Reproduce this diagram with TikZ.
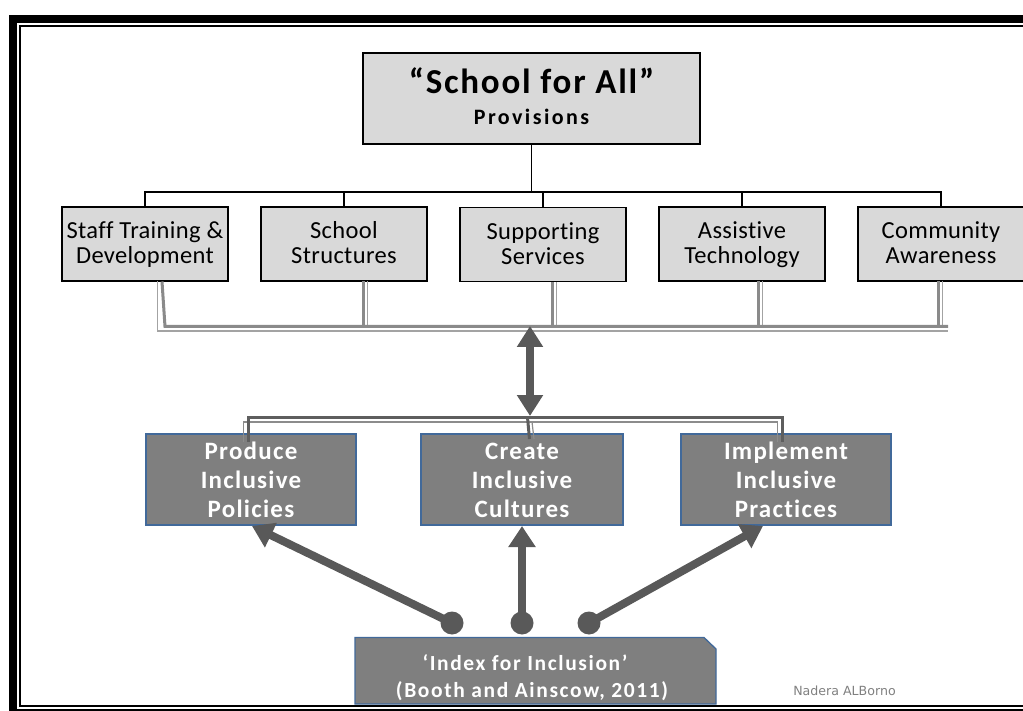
\documentclass[tikz,border=0pt]{standalone}
\usepackage{fontspec}
\setmainfont[Ligatures=NoCommon]{Carlito}
\newfontfamily\boldA[LetterSpace=5,Ligatures=NoCommon]{Carlito}
\newfontfamily\boldB[LetterSpace=7.5,Ligatures=NoCommon]{Carlito}
\newfontfamily\boldC[LetterSpace=11,Ligatures=NoCommon]{Carlito}
\newfontfamily\lightspaced[LetterSpace=1.5,Ligatures=NoCommon]{Carlito}
\newfontfamily\dejavu{DejaVu Sans}
\usetikzlibrary{arrows.meta}
\newcommand\hst[1]{\rule{0pt}{#1pt}}
\newcommand\dst[1]{\rule[-#1pt]{0pt}{#1pt}}
\definecolor{boxgray}{HTML}{D9D9D9}
\definecolor{darkfill}{HTML}{7F7F7F}
\definecolor{edgeblue}{HTML}{41699A}
\definecolor{arrowgray}{HTML}{595959}
\definecolor{busthick}{HTML}{8A8A8A}
\definecolor{busthin}{HTML}{A3A3A3}
\definecolor{lowthick}{HTML}{5E5E5E}
\definecolor{lowthin}{HTML}{8C8C8C}
\definecolor{signgray}{HTML}{808080}
\tikzset{
  topbox/.style={draw=black, line width=1.3pt, fill=boxgray, inner sep=0pt, align=center},
  midbox/.style={draw=black, line width=1.3pt, fill=boxgray, inner sep=0pt, align=center,
     minimum width=166pt, minimum height=74pt, font=\lightspaced\fontsize{24.5}{25}\selectfont},
  lowbox/.style={draw=edgeblue, line width=1.3pt, fill=darkfill, inner sep=0pt, align=center,
     text=white, minimum height=91pt, font=\boldA\bfseries\fontsize{25}{29}\selectfont},
  tree/.style={draw=black, line width=1.5pt},
  gthick/.style={draw=busthick, line width=3pt},
  gthin/.style={draw=busthin, line width=1.2pt},
  lthick/.style={draw=lowthick, line width=3pt},
  lthin/.style={draw=lowthin, line width=1.2pt},
  bigarrow/.style={draw=arrowgray, line width=8pt, -{Triangle[width=26pt,length=21pt]}},
  dblarrow/.style={draw=arrowgray, line width=8.5pt, {Triangle[width=25pt,length=21pt]}-{Triangle[width=25pt,length=21pt]}},
  dot/.style={circle, fill=arrowgray, minimum size=23pt, inner sep=0pt},
}
\begin{document}
\begin{tikzpicture}[x=1pt,y=-1pt]
\useasboundingbox (0,0) rectangle (1023,711);
\clip (0,0) rectangle (1023,711);
\fill[white] (0,0) rectangle (1023,711);

% top box
\node[topbox, minimum width=337pt, minimum height=91pt,
      font=\boldA\bfseries\fontsize{35}{31}\selectfont] (top) at (531.5,98.5)
  {\hst{26}“School for All”\\{\boldC\bfseries\fontsize{22}{31}\selectfont Provisions\dst{4}}};

% second row
\node[midbox] (s1) at (145,244) {\hst{20}Staff Training \&\\Development\dst{5}};
\node[midbox] (s2) at (344,244) {\hst{20}School\\Structures\dst{5}};
\node[midbox] (s3) at (543,244.5) {\hst{20}Supporting\\Services\dst{5}};
\node[midbox] (s4) at (742,244) {\hst{20}Assistive\\Technology\dst{5}};
\node[midbox] (s5) at (941,244) {\hst{20}Community\\Awareness\dst{5}};

% tree connectors
\coordinate (bar) at (0,192);
\draw[tree] (top.south) -- (top.south |- bar);
\draw[tree] (s1.north) |- (bar -| s5.north) -- (s5.north);
\foreach \s in {s2,s3,s4} \draw[tree] (\s.north) -- (\s.north |- bar);

% upper gray bus
\coordinate (ub) at (0,326.5);
\coordinate (ubthin) at (0,331);
\coordinate (u1) at (162,281.5);
\coordinate (u2) at (363,281.5);
\coordinate (u3) at (552,282.5);
\coordinate (u4) at (758,281.5);
\coordinate (u5) at (938,281.5);
\coordinate (uend) at (948,0);
\draw[gthin] ([xshift=-4.5pt]u1) -- ([xshift=-4.5pt]u1 |- ubthin) -- (ubthin -| uend);
\foreach \u in {u2,u3,u4,u5}
  \draw[gthin] ([xshift=4.5pt]\u) -- ([xshift=4.5pt,yshift=-1.5pt]\u |- ub);
\foreach \u in {u2,u3,u4,u5}
  \draw[gthick] (\u) -- (\u |- ub);
\draw[gthick] (u1) -- ([xshift=3pt]u1 |- ub) -- (ub -| uend);

% lower row
\node[lowbox, minimum width=210pt] (pA) at (251,479.5) {\hst{22}Produce\\Inclusive\\Policies\dst{5}};
\node[lowbox, minimum width=202pt] (pB) at (522,479.5) {\hst{22}Create\\Inclusive\\Cultures\dst{5}};
\node[lowbox, minimum width=210pt] (pC) at (786,479.5) {\hst{22}Implement\\Inclusive\\Practices\dst{5}};

% lower bus
\coordinate (lb) at (0,417.5);
\coordinate (lbthin) at (0,422);
\coordinate (l1) at (248,442);
\coordinate (l2) at (530,439);
\coordinate (l3) at (782,442);
\draw[lthin] ([xshift=-4.5pt]l1) -- ([xshift=-4.5pt]l1 |- lbthin) -- ([xshift=-4.5pt]l3 |- lbthin) -- ([xshift=-4.5pt]l3);
\draw[lthin] ([xshift=4pt]l2) -- ([xshift=2pt]l2 |- lbthin);
\draw[lthick] (l1) -- (l1 |- lb) -- (l3 |- lb) -- (l3);
\draw[lthick] ([xshift=-0.5pt]l2) -- ([xshift=-2.5pt]l2 |- lb);

% double arrow between buses
\coordinate (dup) at (530,326);
\coordinate (ddown) at (530,416);
\draw[dblarrow] (dup) -- (ddown);

% index box
\draw[edgeblue, line width=1.3pt, fill=darkfill]
  (355,637.5) -- (704,637.5) -- (716,649) -- (716,704) -- (355,704) -- cycle;
\node[text=white, inner sep=0pt, align=center,
      font=\boldB\bfseries\fontsize{21.5}{27}\selectfont] (idx) at (532,678)
  {\hst{16}‘Index for Inclusion’\kern14pt\\(Booth and Ainscow, 2011)\dst{5}};

% dots and arrows
\node[dot] (d1) at (452,623) {};
\node[dot] (d2) at (522,623) {};
\node[dot] (d3) at (589,623) {};
\coordinate (tA) at (252,526);
\coordinate (tB) at (522,526);
\coordinate (tC) at (763,526);
\draw[bigarrow] (d1.center) -- (tA);
\draw[bigarrow] (d2.center) -- (tB);
\draw[bigarrow] (d3.center) -- (tC);

% signature
\node[font=\dejavu\fontsize{12.6}{15}\selectfont, text=signgray, inner sep=0pt] (sig) at (844.5,690.3) {Nadera ALBorno};

% frame
\draw[black, line width=8pt] (13,19.5) rectangle (1060,713);
\draw[black, line width=1.8pt] (19.8,26) rectangle (1050,706);
\end{tikzpicture}
\end{document}
